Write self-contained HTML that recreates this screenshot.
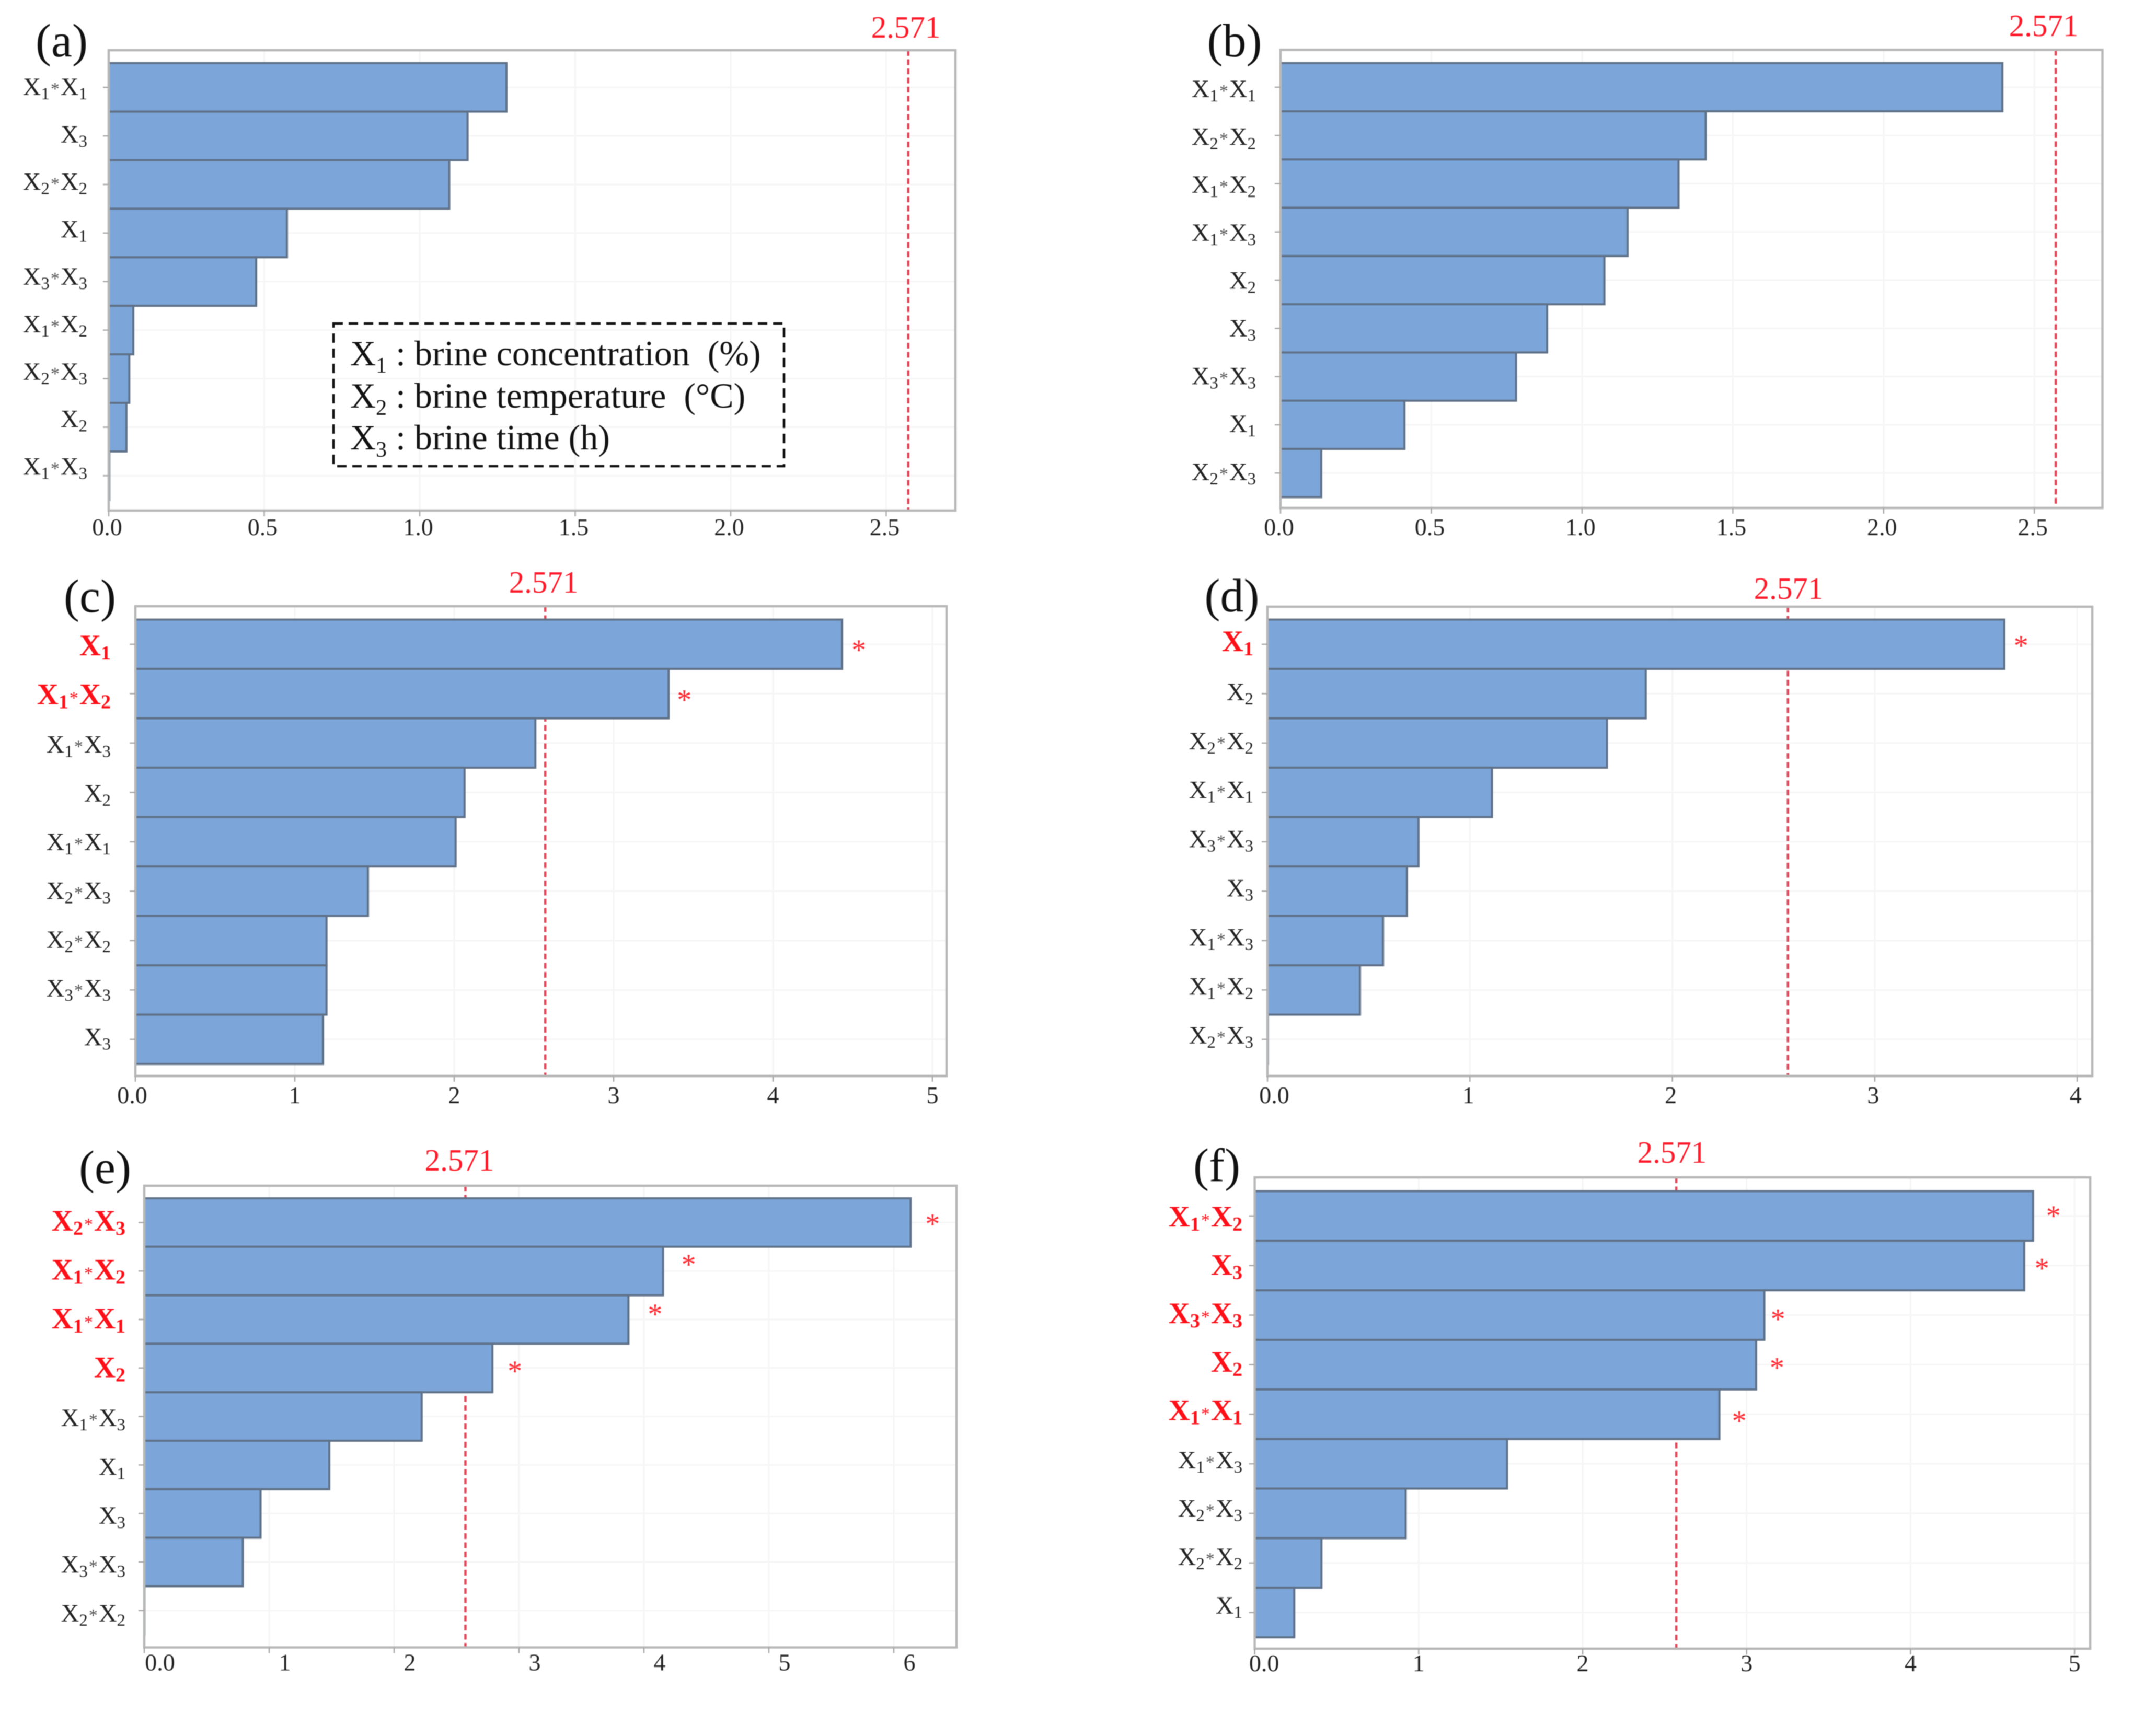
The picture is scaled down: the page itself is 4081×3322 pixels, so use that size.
<!DOCTYPE html>
<html lang="en">
<head>
<meta charset="utf-8">
<title>Pareto charts of standardized effects</title>
<style>
html,body{margin:0;padding:0;background:#fff;}
body{width:4081px;height:3322px;overflow:hidden;}
svg{display:block;font-family:"Liberation Serif",serif;filter:blur(0.8px);}
</style>
</head>
<body>
<svg id="figure" xmlns="http://www.w3.org/2000/svg" width="4081" height="3322" viewBox="0 0 4081 3322">
  <rect x="0" y="0" width="4081" height="3322" fill="#ffffff"/>
  <g id="panels"></g>
  <g id="legend">
    <rect x="638" y="619" width="862" height="273" fill="none" stroke="#111" stroke-width="4.5" stroke-dasharray="18 11"/>
    <text x="670" y="699" font-size="68" fill="#111" xml:space="preserve">X<tspan font-size="42" dy="14">1</tspan><tspan dy="-14"> : brine concentration  (%)</tspan></text>
    <text x="670" y="780" font-size="68" fill="#111" xml:space="preserve">X<tspan font-size="42" dy="14">2</tspan><tspan dy="-14"> : brine temperature  (°C)</tspan></text>
    <text x="670" y="860" font-size="68" fill="#111" xml:space="preserve">X<tspan font-size="42" dy="14">3</tspan><tspan dy="-14"> : brine time (h)</tspan></text>
  </g>
</svg>
<script>
// ---------- chart data ----------
const criticalValue = 2.571;
const criticalLabel = "2.571";

const termsA = ["X1*X1","X3","X2*X2","X1","X3*X3","X1*X2","X2*X3","X2","X1*X3"];
const valuesA = [1.279,1.154,1.095,0.573,0.474,0.079,0.066,0.057,0.002];
const significantA = [];
const ticksA = [0,0.5,1,1.5,2,2.5];
const tickLabelsA = ["0.0","0.5","1.0","1.5","2.0","2.5"];

const termsB = ["X1*X1","X2*X2","X1*X2","X1*X3","X2","X3","X3*X3","X1","X2*X3"];
const valuesB = [2.394,1.410,1.320,1.151,1.074,0.884,0.781,0.411,0.135];
const significantB = [];
const ticksB = [0,0.5,1,1.5,2,2.5];
const tickLabelsB = ["0.0","0.5","1.0","1.5","2.0","2.5"];

const termsC = ["X1","X1*X2","X1*X3","X2","X1*X1","X2*X3","X2*X2","X3*X3","X3"];
const valuesC = [4.433,3.345,2.509,2.065,2.009,1.459,1.199,1.199,1.177];
const significantC = ["X1","X1*X2"];
const ticksC = [0,1,2,3,4,5];
const tickLabelsC = ["0.0","1","2","3","4","5"];

const termsD = ["X1","X2","X2*X2","X1*X1","X3*X3","X3","X1*X3","X1*X2","X2*X3"];
const valuesD = [3.640,1.869,1.677,1.109,0.746,0.689,0.571,0.457,0.002];
const significantD = ["X1"];
const ticksD = [0,1,2,3,4];
const tickLabelsD = ["0.0","1","2","3","4"];

const termsE = ["X2*X3","X1*X2","X1*X1","X2","X1*X3","X1","X3","X3*X3","X2*X2"];
const valuesE = [6.135,4.153,3.876,2.787,2.221,1.481,0.931,0.789,0.002];
const significantE = ["X2*X3","X1*X2","X1*X1","X2"];
const ticksE = [0,1,2,3,4,5,6];
const tickLabelsE = ["0.0","1","2","3","4","5","6"];

const termsF = ["X1*X2","X3","X3*X3","X2","X1*X1","X1*X3","X2*X3","X2*X2","X1"];
const valuesF = [4.747,4.693,3.108,3.058,2.834,1.539,0.921,0.407,0.241];
const significantF = ["X1*X2","X3","X3*X3","X2","X1*X1"];
const ticksF = [0,1,2,3,4,5];
const tickLabelsF = ["0.0","1","2","3","4","5"];

// ---------- panel layout ----------
const panels = [
  {id:"a",terms:termsA,values:valuesA,sig:significantA,ticks:ticksA,tickLabels:tickLabelsA,
   left:208,right:1828,top:96,bottom:977,unit:595,barTop:120.7,step:92.9,
   labelRight:167,labelTop:182,labelStep:90.8,tickDy:47,tickDx:-3,zeroDx:-3,
   tagX:118,tagY:108,critX:1733,critY:72,starDx:[],starDy:[]},
  {id:"b",terms:termsB,values:valuesB,sig:significantB,ticks:ticksB,tickLabels:tickLabelsB,
   left:2450,right:4022.5,top:95.4,bottom:972,unit:576.9,barTop:120.7,step:92.3,
   labelRight:2403,labelTop:186,labelStep:91.6,tickDy:52,tickDx:-3,zeroDx:-3,
   tagX:2362,tagY:108,critX:3910,critY:69,starDx:[],starDy:[]},
  {id:"c",terms:termsC,values:valuesC,sig:significantC,ticks:ticksC,tickLabels:tickLabelsC,
   left:259,right:1811,top:1160,bottom:2059,unit:305,barTop:1185.6,step:94.5,
   labelRight:212,labelTop:1254,labelStep:93.3,tickDy:52,tickDx:0,zeroDx:-6,
   tagX:172,tagY:1171,critX:1040,critY:1134,starDx:[32,30],starDy:[3,4]},
  {id:"d",terms:termsD,values:valuesD,sig:significantD,ticks:ticksD,tickLabels:tickLabelsD,
   left:2425,right:4003,top:1161,bottom:2059,unit:387.3,barTop:1185.6,step:94.5,
   labelRight:2398,labelTop:1246,labelStep:93.9,tickDy:52,tickDx:-3,zeroDx:13,
   tagX:2357,tagY:1170,critX:3422,critY:1146,starDx:[32],starDy:[-5]},
  {id:"e",terms:termsE,values:valuesE,sig:significantE,ticks:ticksE,tickLabels:tickLabelsE,
   left:276,right:1830,top:2269,bottom:3152.5,unit:239,barTop:2293,step:92.8,
   labelRight:240,labelTop:2355,labelStep:93.5,tickDy:44,tickDx:30,zeroDx:30,
   tagX:201,tagY:2264,critX:879,critY:2240,starDx:[42,49,51,43],starDy:[-5,-20,-18,-2]},
  {id:"f",terms:termsF,values:valuesF,sig:significantF,ticks:ticksF,tickLabels:tickLabelsF,
   left:2400.6,right:3999,top:2253,bottom:3155,unit:313.7,barTop:2279.4,step:94.86,
   labelRight:2377,labelTop:2347,labelStep:92.6,tickDy:43,tickDx:0,zeroDx:18,
   tagX:2328,tagY:2260,critX:3199,critY:2225,starDx:[39,34,26,40,38],starDy:[-8,-2,0,-2,5]}
];

const NS = "http://www.w3.org/2000/svg";
function make(tag, attrs, parent){
  const el = document.createElementNS(NS, tag);
  for (const k in attrs) el.setAttribute(k, attrs[k]);
  parent.appendChild(el);
  return el;
}
function span(parent, text, attrs){
  const t = make("tspan", attrs, parent);
  t.textContent = text;
  return t;
}
// Writes a term such as X1*X2 as X + subscript digit with a small centred asterisk.
function writeTerm(textEl, term, bold, color){
  const big = bold ? 57 : 48;
  const sub = bold ? 38 : 33;
  const parts = term.split("*");
  parts.forEach(function(part, idx){
    if (idx > 0){
      span(textEl, "*", {"font-size":34,"font-weight":"normal",dy:-9,dx:2,fill:bold?color:"#555"});
    }
    span(textEl, part.charAt(0), {"font-size":big,dy:idx>0?1:0,dx:idx>0?2:0});
    span(textEl, part.charAt(1), {"font-size":sub,dy:8});
  });
}

const root = document.getElementById("panels");

panels.forEach(function(p){
  const xScale = function(v){ return p.left + v * p.unit; };
  const yBand = function(i){ return p.barTop + i * p.step; };

  const g = make("g", {}, root);
  
  

  // gridlines
  p.ticks.forEach(function(t){
    const line = make("line", {x1:xScale(t),x2:xScale(t),y1:p.top,y2:p.bottom,stroke:"#f5f5f5","stroke-width":3}, g);
    
    
  });
  p.terms.forEach(function(term, i){
    const cy = yBand(i) + p.step / 2;
    const line = make("line", {x1:p.left,x2:p.right,y1:cy,y2:cy,stroke:"#f6f6f6","stroke-width":3}, g);
    
    
  });

  // critical value reference line
  const ref = make("line", {x1:xScale(criticalValue),x2:xScale(criticalValue),y1:p.top,y2:p.bottom,stroke:"#e2475a","stroke-width":4.5,"stroke-dasharray":"11 6.5"}, g);
  
  

  // bars
  p.values.forEach(function(v, i){
    const bar = make("rect", {x:xScale(0),y:yBand(i),width:xScale(v)-xScale(0),height:p.step,fill:"#7ca6da",stroke:"#5f7188","stroke-width":4}, g);
    
    
  });

  // plot frame
  const frame = make("rect", {x:p.left,y:p.top,width:p.right-p.left,height:p.bottom-p.top,fill:"none",stroke:"#b8b8b8","stroke-width":4.5}, g);
  
  

  // x axis ticks and labels
  p.ticks.forEach(function(t, i){
    const tick = make("line", {x1:xScale(t),x2:xScale(t),y1:p.bottom,y2:p.bottom+11,stroke:"#a8a8a8","stroke-width":2.5}, g);
    
    
    const dx = i === 0 ? p.zeroDx : p.tickDx;
    const label = make("text", {x:xScale(t)+dx,y:p.bottom+p.tickDy,"font-size":46,"text-anchor":"middle",fill:"#222"}, g);
    
    
    label.textContent = p.tickLabels[i];
  });

  // y axis ticks and term labels
  p.terms.forEach(function(term, i){
    const cy = yBand(i) + p.step / 2;
    const tick = make("line", {x1:p.left-11,x2:p.left,y1:cy,y2:cy,stroke:"#a8a8a8","stroke-width":2.5}, g);
    
    
    const isSig = p.sig.indexOf(term) !== -1;
    const color = isSig ? "#ff1018" : "#222";
    const label = make("text", {x:p.labelRight,y:p.labelTop+i*p.labelStep,"text-anchor":"end",fill:color,"font-weight":isSig?"bold":"normal"}, g);
    
    
    writeTerm(label, term, isSig, color);
  });

  // significance asterisks
  let starIndex = 0;
  p.terms.forEach(function(term, i){
    if (p.sig.indexOf(term) === -1) return;
    const cy = yBand(i) + p.step / 2;
    const star = make("text", {x:xScale(p.values[i])+p.starDx[starIndex],y:cy+p.starDy[starIndex]+26,"font-size":56,"text-anchor":"middle",fill:"#ff2a32"}, g);
    
    
    star.textContent = "*";
    starIndex++;
  });

  // critical value label
  const crit = make("text", {x:p.critX,y:p.critY,"font-size":59,"text-anchor":"middle",fill:"#ff1a2a"}, g);
  
  
  crit.textContent = criticalLabel;

  // panel tag
  const tag = make("text", {x:p.tagX,y:p.tagY,"font-size":90,"text-anchor":"middle",fill:"#111"}, g);
  
  
  tag.textContent = "(" + p.id + ")";
});

// keep the legend above the charts
document.getElementById("figure").appendChild(document.getElementById("legend"));
</script>
</body>
</html>
